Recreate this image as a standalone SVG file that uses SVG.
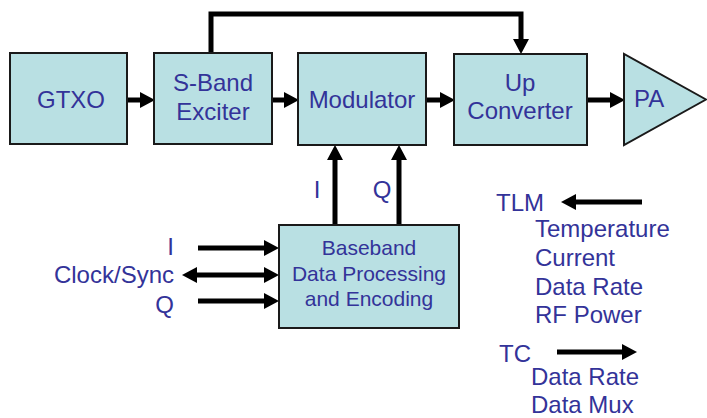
<svg xmlns="http://www.w3.org/2000/svg" width="707" height="418" viewBox="0 0 707 418">
<style>
.box{fill:#B9E0E3;stroke:#1a1a1a;stroke-width:2}
.t{font-family:"Liberation Sans",Arial,sans-serif;font-size:24px;fill:#333399}
.s{font-family:"Liberation Sans",Arial,sans-serif;font-size:21px;fill:#333399}
.c{text-anchor:middle}
.e{text-anchor:end}
.w{fill:none;stroke:#000;stroke-width:5;stroke-linejoin:miter}
</style>
<defs>
<marker id="ah" markerUnits="userSpaceOnUse" markerWidth="15" markerHeight="17" refX="0" refY="8" orient="auto-start-reverse" viewBox="0 0 15 16">
<path d="M0,0 L15,8 L0,16 z" fill="#000"/>
</marker>
</defs>
<g id="connectors">
<line class="w" x1="127" y1="100" x2="140" y2="100" marker-end="url(#ah)"/>
<line class="w" x1="272" y1="100" x2="284" y2="100" marker-end="url(#ah)"/>
<line class="w" x1="426" y1="100" x2="440" y2="100" marker-end="url(#ah)"/>
<line class="w" x1="587" y1="100" x2="610" y2="100" marker-end="url(#ah)"/>
<path class="w" d="M211,53 V14 H521 V39" marker-end="url(#ah)"/>
<line class="w" x1="335" y1="225" x2="335" y2="160" marker-end="url(#ah)"/>
<line class="w" x1="399" y1="225" x2="399" y2="160" marker-end="url(#ah)"/>
<line class="w" x1="198" y1="248" x2="264" y2="248" marker-end="url(#ah)"/>
<line class="w" x1="197" y1="275" x2="264" y2="275" marker-start="url(#ah)" marker-end="url(#ah)"/>
<line class="w" x1="198" y1="301" x2="264" y2="301" marker-end="url(#ah)"/>
<line class="w" x1="642" y1="202" x2="576" y2="202" marker-end="url(#ah)"/>
<line class="w" x1="557" y1="352" x2="622" y2="352" marker-end="url(#ah)"/>
</g>
<g id="gtxo">
<rect class="box" x="10" y="53" width="117" height="91"/>
<text class="t c" x="71" y="108">GTXO</text>
</g>
<g id="sband">
<rect class="box" x="154" y="53" width="118" height="91"/>
<text class="t c" x="213" y="91">S-Band</text>
<text class="t c" x="213" y="120">Exciter</text>
</g>
<g id="modulator">
<rect class="box" x="298" y="53" width="128" height="92"/>
<text class="t c" x="362" y="108">Modulator</text>
</g>
<g id="upconverter">
<rect class="box" x="454" y="54" width="133" height="91"/>
<text class="t c" x="520" y="91">Up</text>
<text class="t c" x="520" y="119">Converter</text>
</g>
<g id="pa">
<polygon class="box" points="624,54 624,145 706,99.5"/>
<text class="t" x="634" y="107">PA</text>
</g>
<g id="baseband">
<rect class="box" x="279" y="225" width="180" height="103"/>
<text class="s c" x="369" y="255">Baseband</text>
<text class="s c" x="369" y="281">Data Processing</text>
<text class="s c" x="369" y="306">and Encoding</text>
</g>
<g id="labels">
<text class="t c" x="317" y="198">I</text>
<text class="t c" x="382" y="198">Q</text>
<text class="t e" x="174" y="255">I</text>
<text class="t e" x="174" y="283">Clock/Sync</text>
<text class="t e" x="174" y="313">Q</text>
<text class="t" x="496" y="211">TLM</text>
<text class="t" x="535" y="237">Temperature</text>
<text class="t" x="535" y="266">Current</text>
<text class="t" x="535" y="295">Data Rate</text>
<text class="t" x="535" y="323">RF Power</text>
<text class="t" x="499" y="362">TC</text>
<text class="t" x="531" y="385">Data Rate</text>
<text class="t" x="531" y="413">Data Mux</text>
</g>
</svg>
